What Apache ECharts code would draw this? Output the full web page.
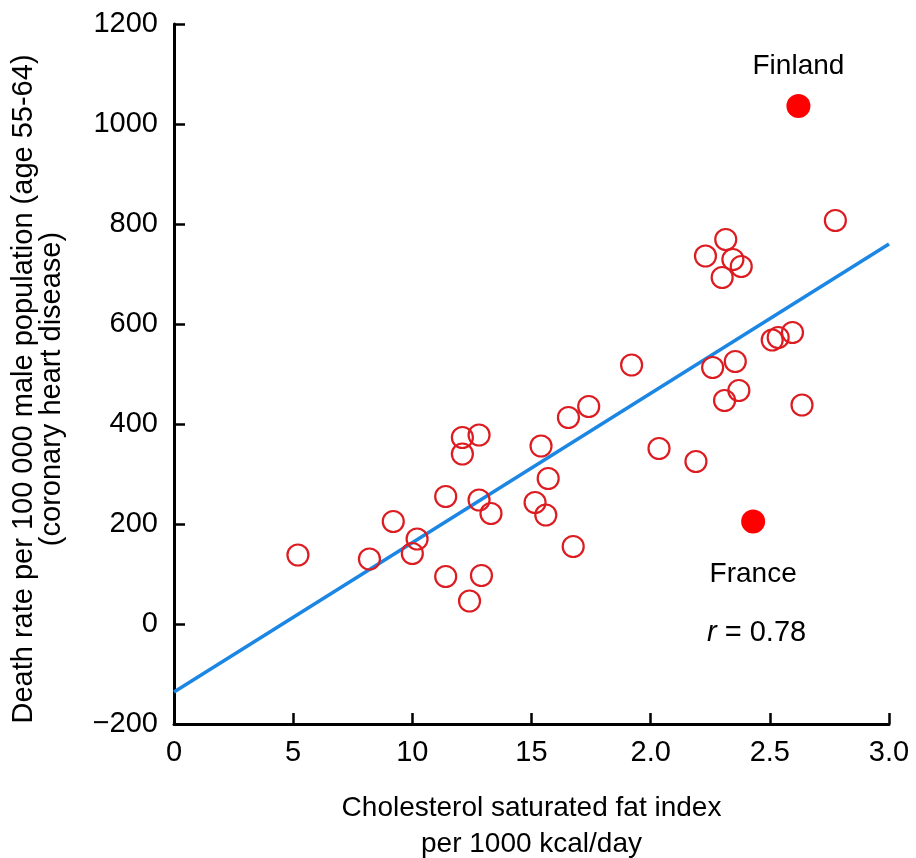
<!DOCTYPE html>
<html>
<head>
    <meta charset="utf-8">
    <title>Cholesterol vs CHD</title>
    <script src="https://cdn.jsdelivr.net/npm/echarts@6/dist/echarts.min.js"></script>
</head>
<body style="margin:0">
    <div id="main" style="width: 916px;height:858px;"></div>
    <script type="text/javascript">
        // tick labels as printed on the original x axis
        var xTickLabels = ['0', '5', '10', '15', '2.0', '2.5', '3.0'];

        // countries (open circles): [fat index, death rate]
        var countries = [
            [0.52, 138], [0.82, 130], [0.92, 205], [1.00, 141], [1.02, 170],
            [1.14, 95], [1.14, 255], [1.21, 373], [1.21, 340], [1.24, 46],
            [1.28, 248], [1.28, 378], [1.29, 97], [1.33, 221], [1.515, 243],
            [1.54, 356], [1.56, 218], [1.57, 291], [1.655, 413], [1.675, 155],
            [1.74, 435], [1.92, 518], [2.035, 351], [2.19, 325], [2.26, 513],
            [2.31, 447], [2.355, 525], [2.37, 467], [2.51, 568], [2.535, 573],
            [2.595, 583], [2.635, 438], [2.23, 736], [2.315, 769], [2.345, 729],
            [2.38, 715], [2.30, 693], [2.775, 807]
        ];

        // highlighted countries
        var highlightNames = ['Finland', 'France'];
        var highlightValues = [[2.62, 1036], [2.43, 205]];

        // regression line end points
        var fitLine = [[0, -136], [3.0, 760]];
        var rText = '0.78';

        var myChart = echarts.init(document.getElementById('main'));
        var font = 'Liberation Sans';

        var option = {
            animation: false,
            backgroundColor: '#fff',
            textStyle: { fontFamily: font },
            grid: { left: 174, right: 27, top: 24, bottom: 134, outerBoundsMode: 'none' },
            xAxis: {
                type: 'value',
                min: 0,
                max: 3.0,
                interval: 0.5,
                name: 'Cholesterol saturated fat index\nper 1000 kcal/day',
                nameLocation: 'middle',
                nameGap: 66,
                nameTextStyle: { fontSize: 28, color: '#000', lineHeight: 36, verticalAlign: 'top' },
                axisLine: { onZero: false, lineStyle: { color: '#000', width: 3 } },
                axisTick: { inside: true, length: 11, lineStyle: { color: '#000', width: 2.5 } },
                axisLabel: {
                    fontSize: 29, color: '#000', margin: 14,
                    formatter: function (v) { return xTickLabels[Math.round(v / 0.5)]; }
                },
                splitLine: { show: false }
            },
            yAxis: {
                type: 'value',
                min: -200,
                max: 1200,
                interval: 200,
                name: 'Death rate per 100 000 male population (age 55-64)\n(coronary heart disease)',
                nameLocation: 'middle',
                nameRotate: 90,
                nameGap: 108,
                nameTextStyle: { fontSize: 29, color: '#000', lineHeight: 28, padding: [0, 30, 0, 0] },
                axisLine: { onZero: false, lineStyle: { color: '#000', width: 3 } },
                axisTick: { inside: true, length: 11, lineStyle: { color: '#000', width: 2.5 } },
                axisLabel: {
                    fontSize: 29, color: '#000', margin: 16,
                    formatter: function (v) { return v < 0 ? '\u2212' + Math.abs(v) : String(v); }
                },
                splitLine: { show: false }
            },
            graphic: [{
                type: 'text',
                left: 707,
                top: 618,
                style: {
                    text: '{i|r} = ' + rText,
                    fill: '#000',
                    font: '29px ' + font,
                    rich: { i: { fontStyle: 'italic', fontSize: 29, fontFamily: font } }
                }
            }],
            series: [
                {
                    type: 'line',
                    data: fitLine,
                    symbol: 'none',
                    silent: true,
                    lineStyle: { color: '#1b86e3', width: 3.5 },
                    z: 1
                },
                {
                    type: 'scatter',
                    data: countries,
                    symbol: 'circle',
                    symbolSize: 21,
                    itemStyle: { color: 'rgba(0,0,0,0)', borderColor: '#dc1c20', borderWidth: 2.2, opacity: 1 },
                    z: 2
                },
                {
                    type: 'scatter',
                    data: highlightValues.map(function (v, i) {
                        return {
                            value: v,
                            name: highlightNames[i],
                            label: i === 0
                                ? { position: 'top', distance: 14 }
                                : { position: 'bottom', distance: 27 }
                        };
                    }),
                    symbol: 'circle',
                    symbolSize: 24,
                    itemStyle: { color: '#ff0000', opacity: 1 },
                    label: {
                        show: true,
                        formatter: '{b}',
                        fontSize: 28,
                        color: '#000'
                    },
                    z: 3
                }
            ]
        };

        myChart.setOption(option);
    </script>
</body>
</html>
